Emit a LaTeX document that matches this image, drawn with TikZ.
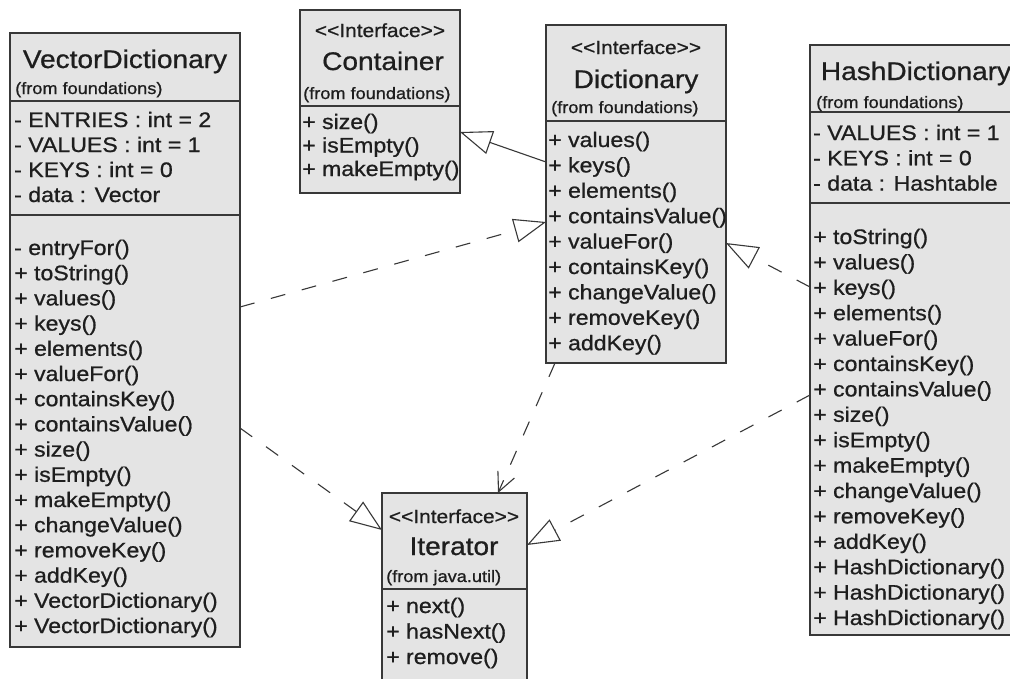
\documentclass[tikz,border=0pt]{standalone}
\usepackage{fontspec}
\setmainfont{Liberation Sans}[FakeStretch=1.1,FakeBold=0.8]
\usetikzlibrary{arrows.meta}
\definecolor{boxfill}{HTML}{E4E4E4}
\definecolor{ink}{HTML}{1E1E1E}
\definecolor{edge}{HTML}{383838}
\newcommand\umltitle{\fontsize{25.5}{30}\selectfont}
\newcommand\umlmember{\fontsize{21}{25}\selectfont}
\newcommand\umlfrom{\fontsize{16.5}{20}\selectfont}
\newcommand\umlstereo{\fontsize{19}{22}\selectfont}
\newcommand\umlinterface{<{}<Interface>{}>}
\begin{document}
\begin{tikzpicture}[x=1pt,y=-1pt,
  classbox/.style={draw=edge, line width=1.4pt, fill=boxfill, rectangle, inner sep=0pt, outer sep=0pt, anchor=north west},
  divider/.style={draw=edge, line width=1.2pt},
  txt/.style={anchor=base west, inner sep=0pt, text=ink},
  ctr/.style={anchor=base, inner sep=0pt, text=ink},
  realize/.style={draw=edge, line width=1.1pt, dash pattern=on 15pt off 17pt, -{Triangle[length=32pt, width=24pt, fill=white]}},
  generalize/.style={draw=edge, line width=1.1pt, -{Triangle[length=32pt, width=24pt, fill=white]}},
  depend/.style={draw=edge, line width=1.1pt, dash pattern=on 15pt off 17pt, -{Straight Barb[length=19pt, width=18pt]}}
]
\useasboundingbox (0,0) rectangle (1010,678);
\clip (0,0) rectangle (1010,678);
\fill[white] (0,0) rectangle (1010,678);

% ---------- boxes ----------
\node[classbox, minimum width=230pt, minimum height=614pt] (vd) at (10,33) {};
\node[classbox, minimum width=160pt, minimum height=183pt] (cont) at (300,10) {};
\node[classbox, minimum width=180pt, minimum height=338pt] (dict) at (546,25) {};
\node[classbox, minimum width=224pt, minimum height=590pt] (hash) at (810,45) {};
\node[classbox, minimum width=145pt, minimum height=200pt] (iter) at (382,493) {};

% ---------- dividers ----------
\draw[divider] (10,101) -- (240,101);
\draw[divider] (10,215) -- (240,215);
\draw[divider] (300,106) -- (460,106);
\draw[divider] (546,121) -- (726,121);
\draw[divider] (810,112) -- (1034,112);
\draw[divider] (810,203) -- (1034,203);
\draw[divider] (382,589) -- (527,589);

% ---------- VectorDictionary ----------
\node[ctr] (vdt) at (125,68) {\umltitle VectorDictionary};
\node[txt] (vdf) at (15,94) {\umlfrom (from foundations)};
\foreach \t [count=\i from 0] in {- ENTRIES : int = 2,- VALUES : int = 1,- KEYS : int = 0,- data : Vector}
  \node[txt] (vda\i) at (14,127+25*\i) {\umlmember \t};
\foreach \t [count=\i from 0] in {- entryFor(),+ toString(),+ values(),+ keys(),+ elements(),+ valueFor(),+ containsKey(),+ containsValue(),+ size(),+ isEmpty(),+ makeEmpty(),+ changeValue(),+ removeKey(),+ addKey(),+ VectorDictionary(),+ VectorDictionary()}
  \node[txt] (vdm\i) at (14,255+25.2*\i) {\umlmember \t};

% ---------- Container ----------
\node[ctr] (cs) at (380,37) {\umlstereo \umlinterface};
\node[ctr] (ct) at (383,70) {\umltitle Container};
\node[txt] (cf) at (303,99) {\umlfrom (from foundations)};
\foreach \t [count=\i from 0] in {+ size(),+ isEmpty(),+ makeEmpty()}
  \node[txt] (cm\i) at (302,129+23.5*\i) {\umlmember \t};

% ---------- Dictionary ----------
\node[ctr] (ds) at (636,54) {\umlstereo \umlinterface};
\node[ctr] (dt) at (636,88) {\umltitle Dictionary};
\node[txt] (df) at (551,113) {\umlfrom (from foundations)};
\foreach \t [count=\i from 0] in {+ values(),+ keys(),+ elements(),+ containsValue(),+ valueFor(),+ containsKey(),+ changeValue(),+ removeKey(),+ addKey()}
  \node[txt] (dm\i) at (548,147+25.4*\i) {\umlmember \t};

% ---------- HashDictionary ----------
\node[ctr] (ht) at (916,80) {\umltitle HashDictionary};
\node[txt] (hf) at (816,108) {\umlfrom (from foundations)};
\foreach \t [count=\i from 0] in {- VALUES : int = 1,- KEYS : int = 0,- data : Hashtable}
  \node[txt] (ha\i) at (813,140+25.3*\i) {\umlmember \t};
\foreach \t [count=\i from 0] in {+ toString(),+ values(),+ keys(),+ elements(),+ valueFor(),+ containsKey(),+ containsValue(),+ size(),+ isEmpty(),+ makeEmpty(),+ changeValue(),+ removeKey(),+ addKey(),+ HashDictionary(),+ HashDictionary(),+ HashDictionary()}
  \node[txt] (hm\i) at (813,244+25.4*\i) {\umlmember \t};

% ---------- Iterator ----------
\node[ctr] (is) at (454,523) {\umlstereo \umlinterface};
\node[ctr] (it) at (454,555) {\umltitle Iterator};
\node[txt] (if) at (386,582) {\umlfrom (from java.util)};
\foreach \t [count=\i from 0] in {+ next(),+ hasNext(),+ remove()}
  \node[txt] (im\i) at (386,613+25.5*\i) {\umlmember \t};

% ---------- connectors ----------
\draw[generalize] ([yshift=-137pt]dict.north west) -- ([yshift=-122pt]cont.north east);
\draw[realize] ([yshift=-274pt]vd.north east) -- ([yshift=-197pt]dict.north west);
\draw[realize] ([yshift=-242pt]hash.north west) -- ([yshift=-218pt]dict.north east);
\draw[realize] ([yshift=-395pt]vd.north east) -- ([yshift=-37pt]iter.north west);
\draw[depend] ([xshift=9pt]dict.south west) -- ([xshift=116pt]iter.north west);
\draw[realize] ([yshift=-350pt]hash.north west) -- ([yshift=-52pt]iter.north east);
\end{tikzpicture}
\end{document}
